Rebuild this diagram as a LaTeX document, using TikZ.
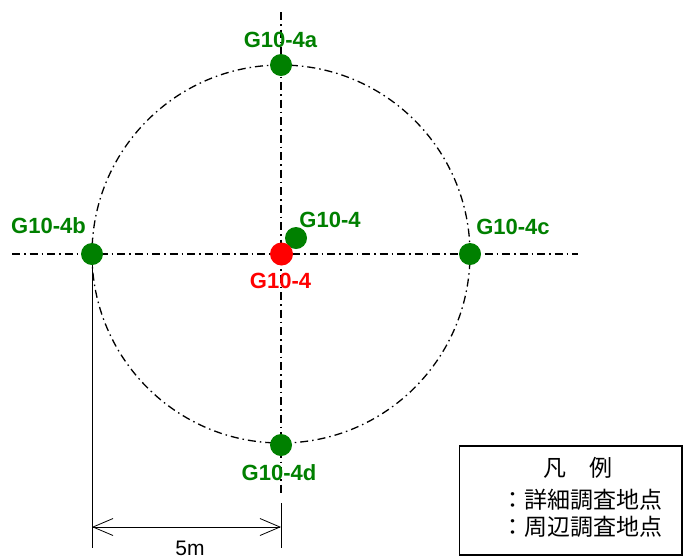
\documentclass[tikz,border=0pt]{standalone}
\usepackage{fontspec}
\setmainfont{Liberation Sans}
\newfontfamily\cjk{Noto Sans CJK JP}
\usetikzlibrary{arrows.meta}
\definecolor{ptgreen}{RGB}{0,128,0}
\definecolor{ptred}{RGB}{255,0,0}
\tikzset{
  axisline/.style={line width=1.3pt, dash pattern=on 8pt off 4pt on 1.5pt off 4pt},
  gdot/.style={circle, fill=ptgreen, minimum size=22pt, inner sep=0pt},
  rdot/.style={circle, fill=ptred, minimum size=23pt, inner sep=0pt},
  glabel/.style={text=ptgreen, font=\fontsize{22}{24}\selectfont\bfseries, anchor=base, inner sep=0pt},
  rlabel/.style={text=ptred, font=\fontsize{22}{24}\selectfont\bfseries, anchor=base, inner sep=0pt},
  dimline/.style={line width=0.8pt},
  legendtext/.style={font=\fontsize{23}{25}\selectfont\cjk, inner sep=0pt},
}
\begin{document}
\begin{tikzpicture}[x=1pt,y=-1pt]
\useasboundingbox (0,0) rectangle (684,558);
% axes
\coordinate (vtop) at (281,12);
\coordinate (vbot) at (281,494);
\coordinate (hl) at (12,254);
\coordinate (hr) at (578,254);
\draw[axisline] (vtop) -- (vbot);
\draw[axisline] (hl) -- (hr);
\node[circle, minimum size=378pt, inner sep=0pt, draw, axisline] (ring) at (281,254) {};
% dimension
\coordinate (e1t) at (92,265);
\coordinate (e1b) at (92,548);
\coordinate (e2t) at (281,503);
\coordinate (e2b) at (281,548);
\coordinate (d1) at (92,527);
\coordinate (d2) at (281,527);
\draw[dimline] (e1t) -- (e1b);
\draw[dimline] (e2t) -- (e2b);
\draw[dimline, {Straight Barb[length=20pt,width=17pt,line width=0.8pt]}-{Straight Barb[length=20pt,width=17pt,line width=0.8pt]}] (d1) -- (d2);
\node[font=\fontsize{21}{23}\selectfont, anchor=base, inner sep=0pt] (dimlabel) at (190,555) {5m};
% dots
\node[gdot] (pa) at (281,65) {};
\node[gdot] (pb) at (92,254) {};
\node[gdot] (pc) at (470,254) {};
\node[gdot] (pd) at (281,445) {};
\node[gdot] (pg) at (296,238) {};
\node[rdot] (pr) at (281.5,254) {};
% labels
\node[glabel] (la) at (280.5,47) {G10-4a};
\node[glabel] (lb) at (48.5,233.5) {G10-4b};
\node[glabel] (lc) at (513,234.5) {G10-4c};
\node[glabel] (lg) at (330,227) {G10-4};
\node[rlabel] (lr) at (280.5,288) {G10-4};
\node[glabel] (ld) at (279,480) {G10-4d};
% legend
\draw[line width=1.5pt] (459.5,446) rectangle (682,555);
\node[legendtext] (lt) at (578,468) {凡　例};
\node[legendtext, anchor=west] (l1) at (501,500) {：詳細調査地点};
\node[legendtext, anchor=west] (l2) at (501,527) {：周辺調査地点};
\end{tikzpicture}
\end{document}
